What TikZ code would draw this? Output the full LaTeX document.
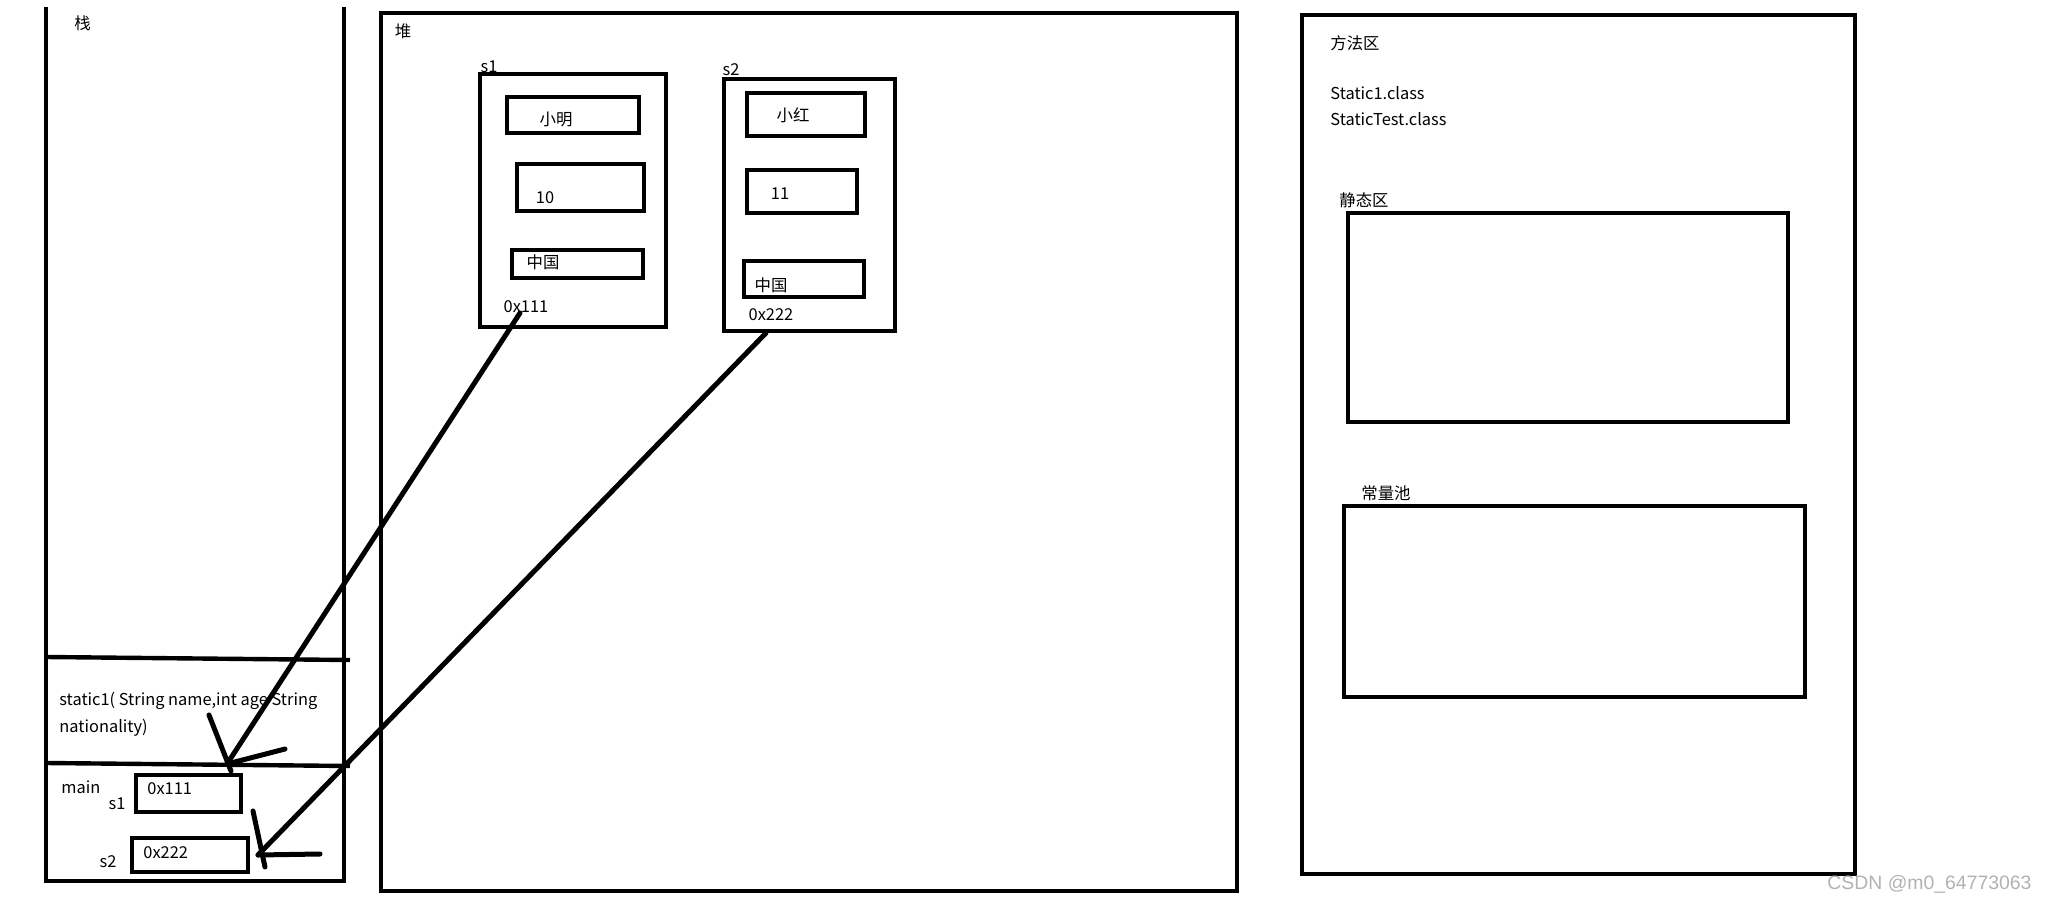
\documentclass[tikz,border=0pt]{standalone}
\usepackage{fontspec}
\setmainfont{Noto Sans CJK SC}
\newfontfamily\wmfont{Liberation Sans}
\usetikzlibrary{fit}

\begin{document}
\begin{tikzpicture}[
    x=0.5pt, y=-0.5pt,
    every node/.style={font=\fontsize{8.2}{10}\selectfont, inner sep=0pt},
    wall/.style={line width=2.2pt},
    frame/.style={draw, line width=2.2pt, inner sep=0pt},
    txt/.style={anchor=west},
    ptr/.style={line width=2.5pt, line cap=round}
  ]
    \useasboundingbox (0,0) rectangle (2046,904);

    % stack
    \draw[wall] (46,7) -- (46,881) -- (344,881) -- (344,7);
    \draw[wall] (46,657) -- (350,660);
    \draw[wall] (46,763) -- (350,766);
    \node[txt] (stacklbl) at (74,23) {栈};
    \node[txt, align=left, font=\fontsize{8.2}{13.5}\selectfont] (frame1) at (59,714)
      {static1( String name,int age String\\nationality)};
    \node[txt] (mainlbl) at (61,787) {main};
    \node (n1) at (117,804) {s1};
    \node[frame, fit={(136,775) (241,812)}] (v1) {};
    \node[txt] (v1val) at (147,789) {0x111};
    \node (n2) at (108,862) {s2};
    \node[frame, fit={(132,838) (248,872)}] (v2) {};
    \node[txt] (v2val) at (143,853) {0x222};

    % heap
    \node[frame, fit={(381,13) (1237,891)}] (heap) {};
    \node (heaplbl) at (403,31) {堆};
    \node[frame, fit={(480,74) (666,327)}] (o1) {};
    \node (o1lbl) at (489,67) {s1};
    \node[frame, fit={(507,97) (639,133)}] (o1name) {};
    \node (o1nametxt) at (556,119) {小明};
    \node[frame, fit={(517,164) (644,211)}] (o1age) {};
    \node (o1agetxt) at (545,198) {10};
    \node[frame, fit={(512,250) (643,278)}] (o1nat) {};
    \node (o1nattxt) at (543,262) {中国};
    \node (o1addr) at (526,307) {0x111};

    \node[frame, fit={(724,79) (895,331)}] (o2) {};
    \node (o2lbl) at (731,70) {s2};
    \node[frame, fit={(747,93) (865,136)}] (o2name) {};
    \node (o2nametxt) at (793,115) {小红};
    \node[frame, fit={(747,170) (857,213)}] (o2age) {};
    \node (o2agetxt) at (780,194) {11};
    \node[frame, fit={(744,261) (864,297)}] (o2nat) {};
    \node (o2nattxt) at (771,285) {中国};
    \node (o2addr) at (771,315) {0x222};

    % method area
    \node[frame, fit={(1302,15) (1855,874)}] (method) {};
    \node[txt] (methodlbl) at (1330,43) {方法区};
    \node[txt] (cls1) at (1330,93) {Static1.class};
    \node[txt] (cls2) at (1330,119) {StaticTest.class};
    \node[txt] (staticlbl) at (1339,200) {静态区};
    \node[frame, fit={(1348,213) (1788,422)}] (static) {};
    \node[txt] (poollbl) at (1361,493) {常量池};
    \node[frame, fit={(1344,506) (1805,697)}] (pool) {};

    \node[txt, font=\wmfont\fontsize{9.7}{10}\selectfont, text=black!30] (wm) at (1827,884) {CSDN @m0\_64773063};

    % pointers
    \coordinate (a1) at (520,313);
    \coordinate (h1) at (227,764);
    \coordinate (a2) at (766,333);
    \coordinate (h2) at (258,855);
    \draw[ptr] (a1) -- (h1);
    \draw[ptr] (h1) ++(-18,-49) -- ++(22,56);
    \draw[ptr] (h1) -- ++(58,-15);
    \draw[ptr] (a2) -- (h2);
    \draw[ptr] (h2) ++(-5,-44) -- ++(12,56);
    \draw[ptr] (h2) -- ++(62,-1);
\end{tikzpicture}
\end{document}
